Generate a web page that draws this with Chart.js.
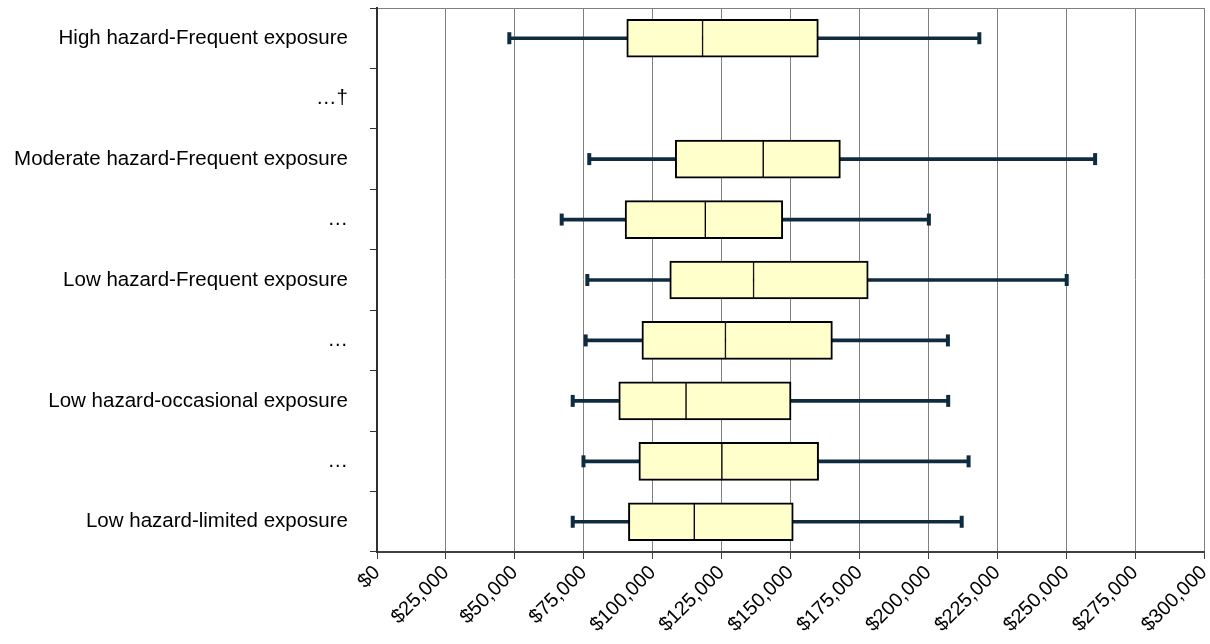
<!DOCTYPE html>
<html>
<head>
<meta charset="utf-8">
<script src="https://cdn.jsdelivr.net/npm/chart.js@4/dist/chart.umd.min.js"></script>
<style>
  html, body { margin: 0; padding: 0; background: #fff; overflow: hidden; }
  #wrap { width: 1214px; height: 646px; margin-top: -2px; position: relative; }
</style>
</head>
<body>
<div id="wrap"><canvas id="chart"></canvas></div>
<script>
// categories, top to bottom
const categories = [
  "High hazard-Frequent exposure",
  "…†",
  "Moderate hazard-Frequent exposure",
  "…",
  "Low hazard-Frequent exposure",
  "…",
  "Low hazard-occasional exposure",
  "…",
  "Low hazard-limited exposure"
];

// box plot values (USD)
const mins    = [48000, null, 77000, 67000, 76300, 75700, 71000, 74900, 71000];
const q1      = [90600, null, 108200, 90000, 106200, 96100, 87700, 95000, 91200];
const medians = [118100, null, 140100, 119100, 136600, 126400, 112100, 125100, 115100];
const q3      = [160100, null, 168100, 147200, 178200, 165200, 150200, 160200, 151000];
const maxs    = [218500, null, 260500, 200200, 250200, 207100, 207200, 214600, 212100];

// x axis ticks
const xMin = 0;
const xMax = 300000;
const xStep = 25000;

const range = (a, b) => a.map((v, i) => (v === null || b[i] === null ? null : [v, b[i]]));
// one point per category row, index kept so duplicate "…" labels map right
const capPoints = (arr) => arr.map((v, i) => ({ x: v, y: i }));

const WHISKER = "#0e2b40";
const BOX_FILL = "#ffffcc";

Chart.defaults.font.family = "'Liberation Sans', Arial, sans-serif";
Chart.defaults.color = "#000";

const capStyle = {
  type: "line",
  showLine: false,
  spanGaps: false,
  pointStyle: "line",
  rotation: 90,
  pointRadius: 6,
  pointHoverRadius: 6,
  borderColor: WHISKER,
  borderWidth: 4,
  xAxisID: "x",
  yAxisID: "y",
  order: 2
};

new Chart(document.getElementById("chart"), {
  type: "bar",
  data: {
    labels: categories,
    datasets: [
      {
        label: "whisker",
        data: range(mins, maxs),
        backgroundColor: WHISKER,
        barThickness: 3,
        grouped: false,
        order: 3
      },
      {
        label: "lower box",
        data: range(q1, medians),
        backgroundColor: BOX_FILL,
        borderColor: "#000",
        borderWidth: { top: 2, bottom: 2, left: 2, right: 1 },
        borderSkipped: false,
        barThickness: 38,
        grouped: false,
        order: 1
      },
      {
        label: "upper box",
        data: range(medians, q3),
        backgroundColor: BOX_FILL,
        borderColor: "#000",
        borderWidth: { top: 2, bottom: 2, left: 1, right: 2 },
        borderSkipped: false,
        barThickness: 38,
        grouped: false,
        order: 1
      },
      Object.assign({ label: "min cap", data: capPoints(mins) }, capStyle),
      Object.assign({ label: "max cap", data: capPoints(maxs) }, capStyle)
    ]
  },
  options: {
    indexAxis: "y",
    responsive: true,
    maintainAspectRatio: false,
    animation: false,
    layout: { padding: { top: 6, right: 1, left: 0, bottom: 0 } },
    plugins: {
      legend: { display: false },
      tooltip: { enabled: false }
    },
    scales: {
      x: {
        type: "linear",
        min: xMin,
        max: xMax,
        ticks: {
          stepSize: xStep,
          minRotation: 45,
          maxRotation: 45,
          padding: 2,
          font: { size: 20 },
          callback: (v) => "$" + Number(v).toLocaleString("en-US")
        },
        grid: {
          color: "#808080",
          lineWidth: 1,
          tickLength: 7,
          tickColor: "#404040"
        },
        border: { color: "#404040", width: 2 },
        afterFit: (scale) => {
          scale.height = 92;
          scale.paddingLeft = 0;
          scale.paddingRight = 0;
        }
      },
      y: {
        type: "category",
        offset: true,
        ticks: {
          padding: 22,
          font: { size: 20.5 }
        },
        grid: {
          offset: true,
          drawOnChartArea: true,
          color: (ctx) => (ctx.index === 0 ? "#808080" : "rgba(0,0,0,0)"),
          tickColor: "#303030",
          tickLength: 7,
          lineWidth: 1
        },
        border: { color: "#303030", width: 2 },
        afterFit: (scale) => {
          scale.width = 377;
          scale.paddingTop = 0;
          scale.paddingBottom = 0;
        }
      }
    }
  }
});
</script>
</body>
</html>
